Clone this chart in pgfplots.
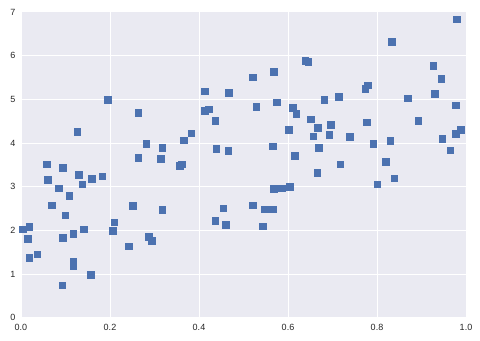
\documentclass[border=0pt]{standalone}
\usepackage{pgfplots}
\pgfplotsset{compat=1.18}
\usepackage{fontspec}
\setmainfont{Liberation Sans}
\definecolor{bgc}{HTML}{EAEAF2}
\definecolor{sbblue}{HTML}{4C72B0}
\definecolor{txt}{HTML}{262626}
\begin{document}
\begin{tikzpicture}
\begin{axis}[
  scale only axis,
  width=445bp, height=305.7bp,
  xmin=0, xmax=1, ymin=0, ymax=7,
  axis background/.style={fill=bgc},
  axis line style={draw=none},
  grid=major,
  major grid style={white, line width=1bp},
  xtick={0,0.2,0.4,0.6,0.8,1.0},
  ytick={0,1,2,3,4,5,6,7},
  major tick length=0pt,
  x tick label style={/pgf/number format/fixed, /pgf/number format/fixed zerofill, /pgf/number format/precision=1, yshift=-3bp},
  /pgf/number format/assume math mode=true,
  tick label style={font=\fontsize{9bp}{10bp}\selectfont, text=txt},
  y tick label style={xshift=-2bp},
]
\addplot[only marks, mark=square*, mark size=3.35bp, mark options={fill=sbblue, draw=sbblue, line width=0pt}] table {
x y
0.059 3.51
0.095 3.42
0.127 4.25
0.196 4.98
0.264 4.68
0.264 3.65
0.282 3.97
0.318 3.88
0.315 3.63
0.358 3.47
0.362 3.51
0.367 4.06
0.383 4.22
0.414 5.18
0.468 5.14
0.414 4.73
0.423 4.77
0.437 4.50
0.439 3.86
0.466 3.81
0.061 3.15
0.131 3.26
0.086 2.96
0.138 3.05
0.160 3.17
0.183 3.23
0.109 2.78
0.070 2.57
0.100 2.34
0.004 2.02
0.019 2.07
0.016 1.80
0.095 1.82
0.118 1.91
0.142 2.02
0.019 1.36
0.037 1.45
0.118 1.27
0.118 1.18
0.158 0.97
0.093 0.74
0.210 2.18
0.207 1.98
0.252 2.55
0.243 1.63
0.288 1.84
0.295 1.75
0.318 2.46
0.437 2.21
0.455 2.50
0.461 2.12
0.980 6.83
0.834 6.31
0.639 5.87
0.646 5.85
0.522 5.50
0.569 5.62
0.927 5.76
0.945 5.46
0.931 5.12
0.780 5.32
0.774 5.23
0.870 5.02
0.715 5.05
0.682 4.98
0.529 4.82
0.576 4.93
0.612 4.80
0.619 4.66
0.978 4.86
0.652 4.54
0.778 4.47
0.893 4.50
0.697 4.41
0.668 4.34
0.603 4.29
0.989 4.29
0.978 4.20
0.657 4.15
0.693 4.18
0.740 4.13
0.947 4.09
0.830 4.04
0.567 3.92
0.792 3.97
0.670 3.88
0.965 3.83
0.616 3.70
0.718 3.51
0.821 3.56
0.666 3.31
0.839 3.19
0.801 3.05
0.569 2.94
0.587 2.96
0.605 2.99
0.522 2.57
0.549 2.48
0.567 2.48
0.544 2.09
};
\end{axis}
\path ([xshift=-21bp,yshift=-23.3bp]current axis.south west) rectangle ([xshift=14bp,yshift=12bp]current axis.north east);
\end{tikzpicture}
\end{document}
